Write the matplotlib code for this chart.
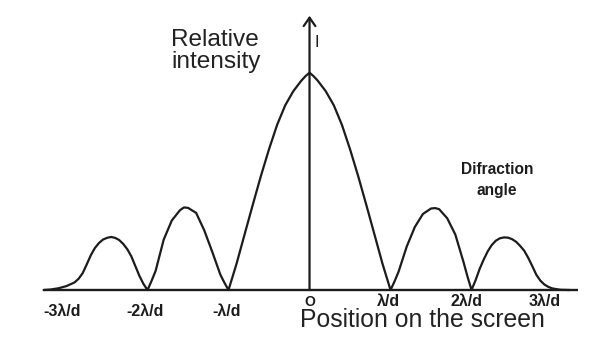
import matplotlib.pyplot as plt
import numpy as np

plt.rcParams['font.family'] = ['Liberation Sans', 'DejaVu Sans']

# intensity curve
# x in units of lambda/d, I relative to the central maximum
lobe2_left_x = [-3.28, -3.2, -3.1, -3.0, -2.9, -2.85, -2.8, -2.75, -2.7, -2.65, -2.6,
                -2.55, -2.5, -2.45, -2.4, -2.35, -2.3, -2.25, -2.2, -2.15, -2.1, -2.05]
lobe2_left_i = [0.0, 0.002, 0.008, 0.018, 0.035, 0.052, 0.078, 0.118, 0.16, 0.193, 0.216,
                0.232, 0.24, 0.244, 0.24, 0.23, 0.212, 0.188, 0.155, 0.11, 0.065, 0.028]

lobe1_left_x = [-2.0, -1.95, -1.9, -1.8, -1.7, -1.6, -1.55, -1.5, -1.4, -1.3, -1.2, -1.1, -1.05]
lobe1_left_i = [0.0, 0.042, 0.088, 0.232, 0.32, 0.367, 0.38, 0.378, 0.355, 0.275, 0.175, 0.07, 0.033]

central_x = [-1.0, -0.9, -0.8, -0.7, -0.6, -0.5, -0.4, -0.3, -0.2, -0.1, -0.05, 0.0,
             0.05, 0.1, 0.2, 0.3, 0.4, 0.5, 0.6, 0.7, 0.8, 0.9, 1.0]
central_i = [0.0, 0.122, 0.258, 0.393, 0.525, 0.648, 0.76, 0.85, 0.915, 0.964, 0.984, 1.0,
             0.984, 0.964, 0.915, 0.85, 0.76, 0.648, 0.525, 0.393, 0.258, 0.122, 0.0]

lobe1_right_x = [1.05, 1.1, 1.2, 1.3, 1.4, 1.5, 1.55, 1.6, 1.7, 1.8, 1.9, 1.95]
lobe1_right_i = [0.04, 0.085, 0.2, 0.29, 0.35, 0.375, 0.377, 0.372, 0.33, 0.255, 0.13, 0.062]

lobe2_right_x = [2.0, 2.05, 2.1, 2.15, 2.2, 2.25, 2.3, 2.35, 2.4, 2.45, 2.5, 2.55,
                 2.6, 2.65, 2.7, 2.75, 2.8, 2.85, 2.9, 2.95, 3.0, 3.1, 3.2]
lobe2_right_i = [0.0, 0.045, 0.097, 0.14, 0.178, 0.207, 0.227, 0.238, 0.242, 0.241, 0.234, 0.222,
                 0.203, 0.181, 0.148, 0.11, 0.07, 0.043, 0.025, 0.014, 0.007, 0.001, 0.0]

tick_pos = [-3, -2, -1, 0, 1, 2, 3]
tick_text = ["-3λ/d", "-2λ/d", "-λ/d", "O", "λ/d", "2λ/d", "3λ/d"]

pos_x = np.concatenate([lobe2_left_x, lobe1_left_x, central_x, lobe1_right_x, lobe2_right_x])
pos_i = np.concatenate([lobe2_left_i, lobe1_left_i, central_i, lobe1_right_i, lobe2_right_i])

ink = '#1c1c1c'

fig = plt.figure(figsize=(6.06, 3.51), dpi=100)
ax = fig.add_axes([0, 0, 1, 1])
ax.set_xlim(-3.821, 3.660)
ax.set_ylim(-0.2807, 1.3346)
ax.axis('off')

# baseline and intensity axis
ax.plot([-3.28, 3.315], [0, 0], color=ink, lw=1.7, solid_capstyle='butt')
ax.annotate('', xy=(0, 1.262), xytext=(0, 0),
            arrowprops=dict(arrowstyle='->,head_length=0.6,head_width=0.42',
                            lw=1.6, color=ink, shrinkA=0, shrinkB=0))

ax.plot(pos_x, pos_i, color=ink, lw=1.6, solid_joinstyle='round')

# tick labels under the baseline
label_dx = [-0.06, -0.03, -0.02, 0.0, -0.03, -0.06, -0.1]
for p, t, dx in zip(tick_pos, tick_text, label_dx):
    y = -0.1197 if p < 0 else -0.075
    size = 10 if t == "O" else 11.5
    ax.text(p + dx, y, t, ha='center', va='baseline', fontsize=size,
            fontweight='bold', color=ink)

ax.text(-1.71, 1.124, "Relative", ha='left', va='baseline', fontsize=17.6, color='#222222')
ax.text(-1.71, 1.0216, "intensity", ha='left', va='baseline', fontsize=17.6, color='#222222')
ax.text(0.089, 1.118, "I", ha='center', va='baseline', fontsize=12, color=ink)

ax.text(2.315, 0.532, "Difraction", ha='center', va='baseline', fontsize=11.2,
        fontweight='bold', color=ink)
ax.text(2.309, 0.439, "angle", ha='center', va='baseline', fontsize=11.2,
        fontweight='bold', color=ink)

ax.text(-0.117, -0.172, "Position on the screen", ha='left', va='baseline',
        fontsize=17.8, color='#222222')

fig.savefig('out.png', dpi=100)
